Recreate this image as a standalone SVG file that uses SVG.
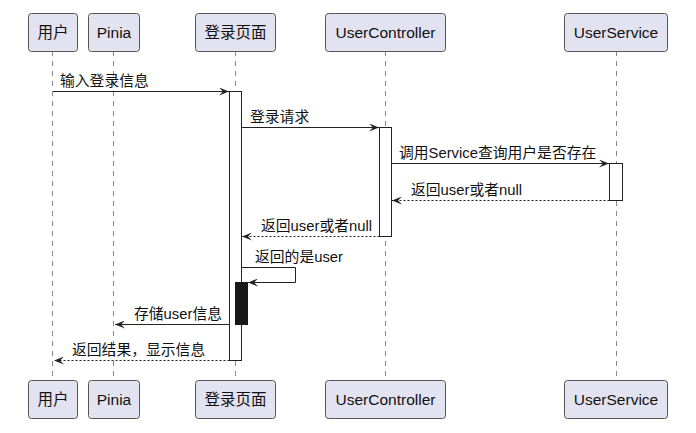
<svg xmlns="http://www.w3.org/2000/svg" width="696" height="433" viewBox="0 0 696 433">
<style>
.box{fill:#E2E2F0;stroke:#555;stroke-width:1}
.pt{font-family:"Liberation Sans","Noto Sans CJK SC",sans-serif;font-size:15.5px;fill:#111;text-anchor:middle}
.life{stroke:#888;stroke-width:1;stroke-dasharray:5,5;fill:none}
.act{fill:#fff;stroke:#222;stroke-width:1}
.msg{stroke:#222;stroke-width:1;fill:none}
.ret{stroke:#222;stroke-width:1;stroke-dasharray:2,2;fill:none}
.ml{font-family:"Liberation Sans","Noto Sans CJK SC",sans-serif;font-size:14.8px;fill:#111}
</style>
<defs>
<marker id="ah" viewBox="0 0 10 8" refX="10" refY="4" markerWidth="10" markerHeight="8" markerUnits="userSpaceOnUse" orient="auto">
<path d="M0,0 L10,4 L0,8 L4,4 Z" fill="#222"/>
</marker>
</defs>
<rect width="696" height="433" fill="#fff"/>
<g id="lifelines">
<line class="life" x1="52.5" y1="51" x2="52.5" y2="380"/>
<line class="life" x1="113.5" y1="51" x2="113.5" y2="380"/>
<line class="life" x1="235.5" y1="51" x2="235.5" y2="380"/>
<line class="life" x1="385.5" y1="51" x2="385.5" y2="380"/>
<line class="life" x1="616.5" y1="51" x2="616.5" y2="380"/>
</g>
<g id="p-user"><rect class="box" x="28.5" y="13.5" width="49" height="38" rx="3"/><text class="pt" x="53" y="38">用户</text>
<rect class="box" x="28.5" y="380.5" width="49" height="38" rx="3"/><text class="pt" x="53" y="405">用户</text></g>
<g id="p-pinia"><rect class="box" x="88.5" y="13.5" width="51" height="38" rx="3"/><text class="pt" x="114" y="38">Pinia</text>
<rect class="box" x="88.5" y="380.5" width="51" height="38" rx="3"/><text class="pt" x="114" y="405">Pinia</text></g>
<g id="p-login"><rect class="box" x="195.5" y="13.5" width="80" height="38" rx="3"/><text class="pt" x="235.5" y="38">登录页面</text>
<rect class="box" x="195.5" y="380.5" width="80" height="38" rx="3"/><text class="pt" x="235.5" y="405">登录页面</text></g>
<g id="p-controller"><rect class="box" x="325.5" y="13.5" width="120" height="38" rx="3"/><text class="pt" x="385.5" y="38">UserController</text>
<rect class="box" x="325.5" y="380.5" width="120" height="38" rx="3"/><text class="pt" x="385.5" y="405">UserController</text></g>
<g id="p-service"><rect class="box" x="564.5" y="13.5" width="103" height="38" rx="3"/><text class="pt" x="616" y="38">UserService</text>
<rect class="box" x="564.5" y="380.5" width="103" height="38" rx="3"/><text class="pt" x="616" y="405">UserService</text></g>
<g id="activations">
<rect class="act" x="229.5" y="91.5" width="12" height="269"/>
<rect class="act" x="379.5" y="127.5" width="12" height="109"/>
<rect class="act" x="609.5" y="163.5" width="13" height="37"/>
<rect x="235.5" y="282.5" width="12" height="42" fill="#181818" stroke="#181818"/>
</g>
<g id="connectors">
<line class="msg" x1="53" y1="91.5" x2="229" y2="91.5" marker-end="url(#ah)"/>
<text class="ml" x="60" y="86">输入登录信息</text>
<line class="msg" x1="241.5" y1="127.5" x2="379" y2="127.5" marker-end="url(#ah)"/>
<text class="ml" x="250" y="122">登录请求</text>
<line class="msg" x1="391.5" y1="163.5" x2="609" y2="163.5" marker-end="url(#ah)"/>
<text class="ml" x="399" y="158">调用Service查询用户是否存在</text>
<line class="ret" x1="609.5" y1="200.5" x2="392" y2="200.5" marker-end="url(#ah)"/>
<text class="ml" x="411" y="195">返回user或者null</text>
<line class="ret" x1="379.5" y1="236.5" x2="242" y2="236.5" marker-end="url(#ah)"/>
<text class="ml" x="261" y="231">返回user或者null</text>
<polyline class="msg" points="241.5,267.5 295.5,267.5 295.5,282.5 248,282.5" marker-end="url(#ah)"/>
<text class="ml" x="255" y="262">返回的是user</text>
<line class="msg" x1="229.5" y1="324.5" x2="115" y2="324.5" marker-end="url(#ah)"/>
<text class="ml" x="134" y="319">存储user信息</text>
<line class="ret" x1="229.5" y1="360.5" x2="54" y2="360.5" marker-end="url(#ah)"/>
<text class="ml" x="72" y="355">返回结果，显示信息</text>
</g>
</svg>
